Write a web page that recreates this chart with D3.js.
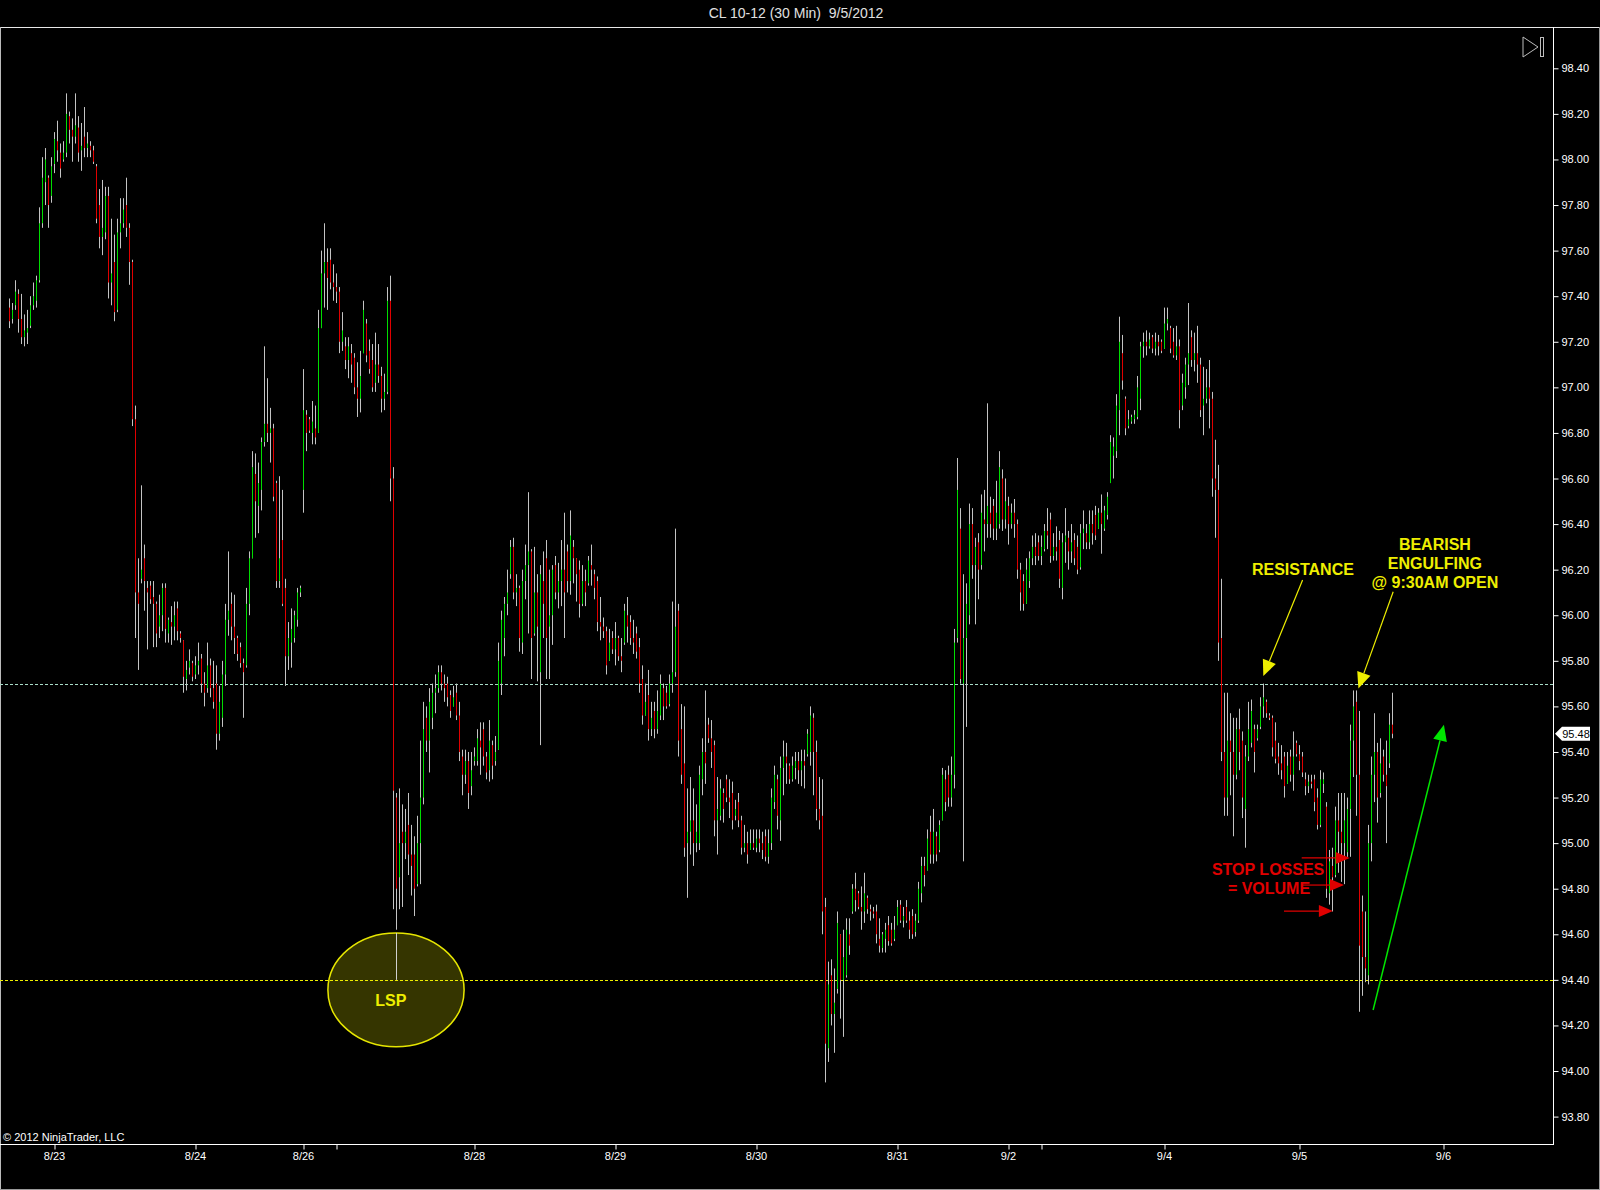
<!DOCTYPE html>
<html>
<head>
<meta charset="utf-8">
<script src="https://cdn.jsdelivr.net/npm/d3@7"></script>
<style>
html, body { margin: 0; padding: 0; background: #000; }
svg { display: block; font-family: "Liberation Sans", Arial, sans-serif; }
</style>
</head>
<body>
<div id="chart"></div>
<script>
// ---- data: 30 min bars [open, high, low, close] ----
const title = "CL 10-12 (30 Min)  9/5/2012";

const barsAug22_27 = [
  [97.35,97.39,97.26,97.29],[97.30,97.37,97.28,97.34],[97.36,97.47,97.34,97.42],[97.41,97.43,97.24,97.30],[97.30,97.41,97.19,97.22],
  [97.22,97.32,97.18,97.25],[97.24,97.34,97.19,97.26],[97.27,97.40,97.26,97.36],[97.36,97.46,97.34,97.40],[97.38,97.49,97.35,97.47],
  [97.47,97.79,97.46,97.72],[97.72,98.01,97.70,97.92],[97.90,98.05,97.80,98.00],[97.92,97.93,97.70,97.80],[97.84,98.01,97.81,97.97],
  [97.98,98.12,97.94,98.09],[98.08,98.17,97.99,98.04],[98.03,98.07,97.92,97.96],[98.00,98.08,97.99,98.03],[98.03,98.29,98.01,98.20],
  [98.19,98.21,98.07,98.13],[98.13,98.18,97.99,98.10],[98.10,98.29,98.07,98.15],[98.14,98.19,97.99,98.03],[98.04,98.16,97.95,98.06],
  [98.10,98.23,98.01,98.05],[98.05,98.12,98.01,98.07],[98.06,98.08,98.01,98.04],[98.04,98.06,97.98,97.99],[97.97,97.98,97.72,97.74],
  [97.80,97.87,97.61,97.66],[97.66,97.91,97.58,97.70],[97.68,97.88,97.65,97.84],[97.84,97.88,97.39,97.46],[97.46,97.74,97.36,97.50],
  [97.55,97.67,97.29,97.33],[97.34,97.74,97.33,97.68],[97.68,97.83,97.61,97.72],[97.72,97.83,97.70,97.78],[97.80,97.92,97.66,97.70],
  [97.70,97.72,97.45,97.55],[97.55,97.56,96.83,96.86],[96.86,96.92,95.90,96.10],[96.10,96.25,95.76,96.05],[96.16,96.57,96.14,96.20],
  [96.25,96.31,96.02,96.15],[96.12,96.15,95.85,96.10],[96.13,96.15,96.05,96.07],[96.08,96.15,95.86,96.05],[96.05,96.06,95.86,95.92],
  [95.95,96.09,95.90,96.00],[96.00,96.14,95.93,96.12],[96.12,96.14,95.88,95.94],[95.92,95.99,95.88,95.98],[95.97,96.04,95.87,95.95],
  [95.95,96.06,95.89,96.00],[96.03,96.06,95.89,95.93],[95.92,95.93,95.88,95.90],[95.89,95.89,95.66,95.73],[95.72,95.80,95.67,95.76],
  [95.77,95.85,95.74,95.80],[95.79,95.80,95.71,95.73],[95.74,95.82,95.72,95.78],[95.78,95.88,95.74,95.80],[95.81,95.83,95.66,95.70],
  [95.70,95.75,95.60,95.66],[95.68,95.88,95.66,95.78],[95.78,95.81,95.64,95.68],[95.68,95.80,95.59,95.62],[95.70,95.78,95.41,95.48],
  [95.48,95.69,95.45,95.62],[95.55,95.80,95.51,95.74],[95.74,96.05,95.69,95.98],[95.98,96.28,95.91,96.02],[96.05,96.10,95.89,95.95],
  [95.95,96.09,95.83,95.90],[95.90,95.91,95.80,95.83],[95.86,95.88,95.77,95.79],[95.79,95.81,95.55,95.75],[95.78,96.12,95.77,96.05],
  [96.05,96.28,96.00,96.25],[96.25,96.72,96.25,96.65],[96.62,96.71,96.34,96.50],[96.48,96.67,96.36,96.58],[96.55,96.78,96.46,96.76],
  [96.76,97.18,96.74,96.84],[96.84,97.04,96.76,96.80],[96.80,96.91,96.67,96.82],[96.82,96.84,96.50,96.52],[96.58,96.59,96.12,96.15],
  [96.15,96.61,96.12,96.25],[96.33,96.55,96.04,96.05],[96.12,96.16,95.69,95.82],[95.82,95.97,95.76,95.90],[95.88,96.03,95.77,95.94],
  [95.90,96.02,95.88,96.00],[95.98,96.12,95.95,96.10],[96.10,96.13,96.08,96.12],[96.55,97.08,96.45,96.90],[96.88,96.90,96.72,96.80],
  [96.86,96.87,96.80,96.81],[96.80,96.94,96.75,96.85],[96.82,96.92,96.75,96.78],[96.80,97.34,96.80,97.26],[97.26,97.60,97.26,97.50],
  [97.50,97.72,97.35,97.55],[97.55,97.61,97.34,97.48],[97.56,97.61,97.43,97.46],[97.46,97.54,97.38,97.44],[97.44,97.50,97.37,97.42],
  [97.42,97.44,97.15,97.20],[97.20,97.33,97.16,97.25],[97.18,97.22,97.08,97.12],[97.12,97.22,97.04,97.18],[97.15,97.19,97.02,97.10],
  [97.13,97.15,96.97,97.00],[97.00,97.11,96.87,96.95],[96.95,97.16,96.89,97.05],[97.15,97.38,97.15,97.34],[97.28,97.30,97.11,97.14],
  [97.16,97.21,97.06,97.08],[97.12,97.19,96.98,97.00],[97.02,97.24,96.98,97.10],[97.10,97.19,97.02,97.05],[97.05,97.09,96.89,96.95],
  [96.95,97.06,96.90,96.98],[96.98,97.44,96.97,97.38],[97.38,97.49,96.50,96.60],[96.60,96.65,94.71,95.23]
];

const barsAug27_31 = [
  [95.20,95.22,94.62,94.80],[94.85,95.24,94.71,95.00],[95.05,95.17,94.72,95.00],[95.00,95.15,94.93,95.05],[95.08,95.22,94.86,94.95],
  [94.95,95.08,94.77,94.90],[94.95,95.03,94.68,94.80],[94.82,95.12,94.81,95.00],[95.00,95.45,94.82,95.20],[95.20,95.62,95.17,95.50],
  [95.55,95.60,95.40,95.45],[95.45,95.68,95.31,95.62],[95.55,95.70,95.50,95.66],[95.66,95.74,95.57,95.68],[95.68,95.78,95.66,95.75],
  [95.75,95.78,95.67,95.70],[95.70,95.74,95.62,95.68],[95.70,95.73,95.60,95.64],[95.65,95.67,95.55,95.58],[95.60,95.69,95.60,95.64],
  [95.66,95.70,95.54,95.56],[95.56,95.62,95.36,95.40],[95.38,95.41,95.21,95.30],[95.30,95.41,95.26,95.36],[95.36,95.40,95.15,95.22],
  [95.25,95.40,95.21,95.32],[95.36,95.42,95.34,95.38],[95.36,95.50,95.34,95.46],[95.45,95.53,95.30,95.42],[95.50,95.53,95.34,95.38],
  [95.38,95.40,95.28,95.31],[95.32,95.54,95.27,95.45],[95.43,95.45,95.28,95.34],[95.36,95.47,95.34,95.40],[95.41,95.88,95.41,95.80],
  [95.70,96.02,95.65,95.98],[95.90,96.08,95.82,96.05],[96.05,96.20,96.00,96.10],[96.18,96.33,96.16,96.30],[96.30,96.34,96.07,96.10],
  [96.10,96.18,96.04,96.12],[96.12,96.13,95.84,95.90],[95.88,96.20,95.83,96.15],[96.15,96.31,96.07,96.22],[96.22,96.54,95.92,96.28],
  [96.28,96.29,95.72,95.90],[95.92,96.30,95.91,96.10],[96.10,96.18,95.71,95.95],[95.75,96.22,95.43,96.18],[96.15,96.28,95.90,96.05],
  [96.25,96.33,95.72,95.90],[95.95,96.20,95.72,96.00],[96.00,96.22,95.87,96.20],[96.22,96.26,96.07,96.10],[96.10,96.23,96.03,96.15],
  [96.15,96.33,96.04,96.20],[96.20,96.45,95.90,96.10],[96.28,96.31,96.10,96.15],[96.15,96.46,96.09,96.35],[96.30,96.33,96.14,96.25],
  [96.25,96.25,96.06,96.18],[96.20,96.24,95.99,96.05],[96.05,96.22,96.04,96.15],[96.15,96.20,96.04,96.10],[96.14,96.26,96.13,96.24],
  [96.22,96.31,96.13,96.20],[96.18,96.20,96.07,96.12],[96.15,96.17,95.93,95.97],[95.97,96.08,95.89,95.95],[95.95,95.99,95.90,95.93],
  [95.93,95.95,95.74,95.78],[95.80,95.94,95.80,95.88],[95.90,95.93,95.83,95.85],[95.85,95.97,95.78,95.90],[95.90,95.91,95.80,95.82],
  [95.82,95.90,95.75,95.80],[95.88,96.05,95.87,96.02],[96.00,96.08,95.88,95.95],[95.97,96.00,95.87,95.90],[95.90,95.98,95.83,95.88],
  [95.92,95.95,95.81,95.84],[95.86,95.90,95.66,95.70],[95.72,95.78,95.52,95.56],[95.56,95.70,95.56,95.62],[95.65,95.76,95.45,95.50],
  [95.50,95.62,95.47,95.55],[95.58,95.62,95.46,95.50],[95.50,95.67,95.48,95.58],[95.56,95.74,95.54,95.70],[95.68,95.70,95.54,95.60],
  [95.66,95.69,95.59,95.60],[95.61,95.74,95.60,95.70],[95.70,96.06,95.66,95.75],[95.75,96.38,95.73,95.95],[96.02,96.05,95.38,95.45],
  [95.50,95.61,95.26,95.30],[95.35,95.60,94.94,94.98],[95.00,95.24,94.76,95.05],[95.05,95.29,94.95,95.10],[95.10,95.24,94.90,95.00],
  [95.00,95.17,94.96,95.05],[95.00,95.34,94.97,95.30],[95.28,95.46,95.21,95.40],[95.40,95.67,95.26,95.35],[95.52,95.55,95.44,95.46],
  [95.46,95.54,95.33,95.40],[95.43,95.45,95.03,95.10],[95.10,95.29,94.95,95.15],[95.12,95.28,95.10,95.24],[95.22,95.24,95.09,95.15],
  [95.28,95.30,95.18,95.20],[95.20,95.28,95.11,95.18],[95.22,95.27,95.06,95.10],[95.12,95.19,95.10,95.15],[95.18,95.22,95.07,95.10],
  [95.10,95.12,94.95,94.98],[94.98,95.08,94.96,95.00],[95.00,95.05,94.91,94.95],[94.97,95.06,94.97,95.00],[95.00,95.06,94.97,94.98],
  [94.98,95.06,94.96,95.02],[95.02,95.06,94.96,95.00],[95.00,95.05,94.93,94.97],[95.03,95.06,94.92,94.94],[94.94,95.06,94.91,95.00],
  [95.00,95.24,94.97,95.20],[95.18,95.34,95.15,95.30],[95.28,95.30,95.06,95.12],[95.10,95.38,95.01,95.33],[95.33,95.45,95.21,95.38],
  [95.38,95.44,95.26,95.35],[95.34,95.35,95.26,95.28],[95.28,95.38,95.27,95.34],[95.33,95.40,95.28,95.36],[95.36,95.40,95.26,95.32],
  [95.32,95.41,95.25,95.36],[95.36,95.41,95.24,95.34],[95.39,95.50,95.38,95.48],[95.40,95.60,95.34,95.56],[95.55,95.57,95.21,95.40],
  [95.40,95.45,95.10,95.15],[95.15,95.29,95.06,95.10],[95.12,95.28,94.60,94.70],[94.72,94.76,93.95,94.12],[94.10,94.48,94.04,94.38],
  [94.42,94.49,94.20,94.25],[94.25,94.45,94.08,94.30],[94.36,94.70,94.34,94.65],[94.60,94.60,94.23,94.40],[94.40,94.62,94.15,94.50],
  [94.42,94.67,94.41,94.62],[94.60,94.67,94.51,94.55],[94.70,94.82,94.69,94.80],[94.80,94.87,94.70,94.75],[94.78,94.79,94.71,94.72],
  [94.72,94.81,94.62,94.70],[94.70,94.87,94.65,94.78],[94.76,94.77,94.69,94.71],[94.71,94.73,94.66,94.70],[94.70,94.72,94.67,94.69],
  [94.70,94.73,94.56,94.60],[94.58,94.67,94.52,94.55]
];

const barsAug31_Sep5 = [
  [94.54,94.61,94.52,94.60],[94.58,94.65,94.52,94.62],[94.64,94.68,94.55,94.57],[94.62,94.65,94.55,94.56],[94.58,94.68,94.57,94.62],
  [94.64,94.75,94.64,94.72],[94.73,94.75,94.65,94.66],[94.66,94.72,94.63,94.68],[94.72,94.75,94.65,94.66],[94.66,94.70,94.58,94.62],
  [94.68,94.71,94.58,94.60],[94.61,94.69,94.59,94.66],[94.66,94.83,94.65,94.80],[94.78,94.94,94.74,94.90],[94.90,94.94,94.81,94.86],
  [94.88,95.06,94.88,95.02],[95.05,95.12,94.91,94.95],[94.95,95.15,94.91,95.05],[95.03,95.05,94.92,94.95],[94.97,95.10,94.96,95.08],
  [95.10,95.33,95.10,95.30],[95.28,95.32,95.14,95.18],[95.30,95.34,95.16,95.20],[95.20,95.38,95.16,95.30],[95.30,95.94,95.24,95.88],
  [95.90,96.69,95.88,96.55],[96.38,96.47,95.70,95.72],[95.70,96.18,94.92,95.90],[95.90,96.14,95.51,96.05],[96.00,96.49,95.96,96.40],
  [96.40,96.47,96.16,96.22],[96.22,96.34,95.96,96.30],[96.32,96.36,96.07,96.20],[96.22,96.53,96.20,96.45],[96.42,96.55,96.28,96.40],
  [96.40,96.93,96.34,96.48],[96.45,96.52,96.34,96.40],[96.48,96.51,96.33,96.38],[96.38,96.59,96.33,96.45],[96.40,96.72,96.38,96.65],
  [96.60,96.64,96.37,96.42],[96.42,96.60,96.38,96.50],[96.48,96.52,96.31,96.40],[96.40,96.49,96.38,96.45],[96.45,96.51,96.34,96.40],
  [96.40,96.42,96.16,96.20],[96.20,96.23,96.02,96.10],[96.15,96.18,96.02,96.05],[96.05,96.25,96.05,96.20],[96.15,96.28,96.12,96.25],
  [96.25,96.35,96.22,96.30],[96.30,96.36,96.22,96.26],[96.32,96.35,96.24,96.26],[96.26,96.35,96.22,96.30],[96.29,96.40,96.28,96.37],
  [96.37,96.47,96.29,96.35],[96.42,96.45,96.23,96.26],[96.26,96.36,96.24,96.30],[96.30,96.39,96.24,96.28],[96.33,96.37,96.12,96.16],
  [96.12,96.36,96.07,96.32],[96.32,96.47,96.23,96.35],[96.34,96.37,96.20,96.28],[96.28,96.40,96.23,96.32],[96.33,96.36,96.22,96.25],
  [96.30,96.35,96.18,96.20],[96.21,96.40,96.20,96.36],[96.36,96.46,96.29,96.38],[96.36,96.40,96.29,96.32],[96.32,96.46,96.29,96.40],
  [96.40,96.46,96.31,96.36],[96.44,96.48,96.33,96.35],[96.38,96.47,96.38,96.45],[96.45,96.53,96.27,96.40],[96.38,96.48,96.37,96.46],
  [96.44,96.54,96.42,96.52],[96.58,96.79,96.58,96.76],[96.70,96.78,96.60,96.74],[96.72,96.97,96.69,96.92],[96.90,97.31,96.79,97.20],
  [97.15,97.23,96.99,97.03],[96.95,96.96,96.79,96.82],[96.83,96.90,96.82,96.86],[96.85,96.88,96.84,96.87],[96.86,96.90,96.84,96.88],
  [96.87,97.05,96.86,97.00],[96.95,97.20,96.90,97.18],[97.18,97.24,97.13,97.20],[97.20,97.25,97.14,97.18],[97.18,97.24,97.17,97.21],
  [97.22,97.23,97.15,97.17],[97.17,97.24,97.14,97.20],[97.20,97.23,97.14,97.18],[97.20,97.21,97.15,97.16],[97.17,97.35,97.17,97.28],
  [97.28,97.35,97.25,97.30],[97.26,97.27,97.15,97.17],[97.20,97.26,97.13,97.14],[97.14,97.27,97.12,97.18],[97.18,97.21,96.82,96.90],
  [96.92,97.06,96.90,97.02],[97.00,97.13,96.95,97.10],[97.10,97.37,97.01,97.15],[97.22,97.25,97.09,97.12],[97.12,97.24,97.07,97.15],
  [97.15,97.27,97.02,97.10],[97.10,97.13,96.87,96.90],[96.92,97.09,96.79,96.95],[96.95,97.08,96.93,97.00],[97.00,97.12,96.82,96.95],
  [96.95,96.98,96.52,96.60],[96.60,96.77,96.34,96.55],[96.55,96.66,95.80,95.88],[95.90,96.16,95.36,95.40],[95.40,95.66,95.12,95.20],
  [95.20,95.66,95.12,95.45],[95.45,95.57,95.21,95.40],[95.40,95.55,95.03,95.30],[95.30,95.55,95.28,95.50],[95.50,95.59,95.32,95.40],
  [95.45,95.49,95.11,95.20],[95.15,95.43,94.98,95.38],[95.38,95.62,95.36,95.50],[95.44,95.63,95.42,95.58],[95.50,95.52,95.31,95.40],
  [95.46,95.52,95.45,95.50],[95.51,95.64,95.50,95.60],[95.60,95.70,95.55,95.64],[95.62,95.63,95.55,95.57],[95.56,95.57,95.54,95.55],
  [95.55,95.56,95.38,95.42],[95.45,95.53,95.35,95.37],[95.38,95.44,95.30,95.35],[95.35,95.43,95.28,95.32],[95.38,95.40,95.20,95.25],
  [95.26,95.40,95.26,95.34],[95.38,95.41,95.27,95.30],[95.30,95.49,95.23,95.38],[95.44,95.45,95.38,95.39],[95.39,95.43,95.32,95.36],
  [95.38,95.40,95.29,95.31],[95.28,95.31,95.21,95.25],[95.25,95.30,95.22,95.27],[95.27,95.30,95.24,95.26],[95.28,95.30,95.14,95.18],
  [95.20,95.24,95.06,95.08],[95.08,95.32,95.07,95.28],[95.26,95.31,95.22,95.28],[95.16,95.18,94.76,94.80],[94.78,94.97,94.73,94.92],
  [94.90,94.98,94.70,94.85],[94.86,95.16,94.85,95.10],[95.10,95.22,94.87,95.05],[95.05,95.22,94.83,95.00],[95.00,95.22,94.82,95.10],
  [94.96,95.20,94.94,95.15],[95.15,95.52,94.94,95.45],[95.45,95.67,95.29,95.60],[95.62,95.67,95.12,95.30],[95.30,95.58,94.26,94.55],
  [94.70,94.77,94.33,94.50],[94.50,94.70,94.39,94.45],[94.42,95.08,94.38,95.00],[95.00,95.38,94.92,95.30],[95.30,95.57,95.18,95.40],
  [95.40,95.44,95.09,95.20],[95.22,95.46,95.20,95.35],[95.38,95.41,95.27,95.30],[95.30,95.45,95.00,95.25],[95.35,95.57,95.33,95.52],
  [95.52,95.66,95.46,95.48]
];

// x axis: bar index of each date tick and its label ("" = unlabeled tick)
const dateTickIdx = [15, 62, 98, 109, 155, 202, 249, 296, 333, 344, 385, 430, 478];
const dateTickLbl = ["8/23", "8/24", "8/26", "", "8/28", "8/29", "8/30", "8/31", "9/2", "", "9/4", "9/5", "9/6"];
const priceTicks = [93.8, 94.0, 94.2, 94.4, 94.6, 94.8, 95.0, 95.2, 95.4, 95.6, 95.8, 96.0,
                    96.2, 96.4, 96.6, 96.8, 97.0, 97.2, 97.4, 97.6, 97.8, 98.0, 98.2, 98.4];

// horizontal levels and last price
const resistanceLevel = 95.70;
const supportLevel = 94.40;
const lastPrice = 95.48;

// drawn annotations, in [bar index, price]
const lsp = {center: [129, 94.356], rIdx: 22.7, rPrice: 0.25, label: "LSP", labelAt: [127.3, 94.31]};
const yellowArrows = [
  {from: [431.2, 96.155], to: [418.1, 95.733]},
  {from: [461.4, 96.103], to: [449.8, 95.679]}
];
const redArrows = [
  {from: [430.9, 94.935], to: [446.9, 94.935]},
  {from: [431.3, 94.816], to: [445.0, 94.816]},
  {from: [425.0, 94.702], to: [441.3, 94.702]}
];
const greenArrow = {from: [454.7, 94.268], to: [478.3, 95.519]};
const notes = [
  {text: "RESISTANCE", at: [431.3, 96.203], color: "#eeee00"},
  {text: "BEARISH", at: [475.3, 96.313], color: "#eeee00"},
  {text: "ENGULFING", at: [475.3, 96.230], color: "#eeee00"},
  {text: "@ 9:30AM OPEN", at: [475.3, 96.146], color: "#eeee00"},
  {text: "STOP LOSSES", at: [419.7, 94.887], color: "#e00000"},
  {text: "= VOLUME", at: [420.0, 94.804], color: "#e00000"}
];

const bars = [...barsAug22_27, ...barsAug27_31, ...barsAug31_Sep5];

// ---- layout ----
const W = 1600, H = 1190;
const plotTop = 27, plotBottom = 1144, axisX = 1553;

const svg = d3.select("#chart").append("svg")
  .attr("width", W).attr("height", H)
  .style("background", "#000");

const x = d3.scaleLinear().domain([0, 478]).range([9, 1443]);
const y = d3.scaleLinear().domain([93.8, 98.4]).range([1116.6, 68.3]);
const px = v => Math.round(x(v)) + 0.5;

// title (keep the double space)
svg.append("text")
  .attr("x", 796).attr("y", 18)
  .attr("text-anchor", "middle")
  .attr("fill", "#e0e0e0")
  .style("font-size", "14px")
  .style("white-space", "pre")
  .text(title);

// frame
svg.append("line").attr("x1", 0).attr("x2", W).attr("y1", plotTop + 0.5).attr("y2", plotTop + 0.5)
  .attr("stroke", "#e8e8e8");
svg.append("line").attr("x1", 0.5).attr("x2", 0.5).attr("y1", plotTop).attr("y2", H)
  .attr("stroke", "#bbb");
svg.append("line").attr("x1", 0).attr("x2", W).attr("y1", H - 0.5).attr("y2", H - 0.5)
  .attr("stroke", "#999");
svg.append("line").attr("x1", W - 0.5).attr("x2", W - 0.5).attr("y1", plotTop).attr("y2", H)
  .attr("stroke", "#999");

// LSP ellipse under everything else
svg.append("ellipse")
  .attr("cx", x(lsp.center[0])).attr("cy", y(lsp.center[1]))
  .attr("rx", x(lsp.rIdx) - x(0)).attr("ry", y(lsp.center[1] - lsp.rPrice) - y(lsp.center[1]))
  .attr("fill", "rgba(240,240,0,0.22)")
  .attr("stroke", "#e6e600").attr("stroke-width", 1.5);

// horizontal levels
svg.append("line")
  .attr("x1", 0).attr("x2", axisX)
  .attr("y1", Math.round(y(resistanceLevel)) + 0.5).attr("y2", Math.round(y(resistanceLevel)) + 0.5)
  .attr("stroke", "#a8dcc8").attr("stroke-dasharray", "3,2");
svg.append("line")
  .attr("x1", 0).attr("x2", axisX)
  .attr("y1", Math.round(y(supportLevel)) + 0.5).attr("y2", Math.round(y(supportLevel)) + 0.5)
  .attr("stroke", "#f0f000").attr("stroke-dasharray", "3,2");

// line from the LSP bar down to the support level
svg.append("line")
  .attr("x1", px(lsp.center[0])).attr("x2", px(lsp.center[0]))
  .attr("y1", y(lsp.center[1] + lsp.rPrice)).attr("y2", y(supportLevel))
  .attr("stroke", "#d0d0d0");

// bars: grey wick, coloured body
const barG = svg.append("g");
const bar = barG.selectAll("g").data(bars).join("g");
bar.append("line")
  .attr("x1", (d, i) => px(i)).attr("x2", (d, i) => px(i))
  .attr("y1", d => y(d[1])).attr("y2", d => y(d[2]))
  .attr("stroke", "#c4c4c4").attr("stroke-width", 1);
bar.append("line")
  .attr("x1", (d, i) => px(i)).attr("x2", (d, i) => px(i))
  .attr("y1", d => y(Math.max(d[0], d[3])))
  .attr("y2", d => Math.max(y(Math.min(d[0], d[3])), y(Math.max(d[0], d[3])) + 1))
  .attr("stroke", d => d[3] >= d[0] ? "#00dd00" : "#e00000").attr("stroke-width", 1);

// axes
const yAxis = d3.axisRight(y).tickValues(priceTicks).tickFormat(d3.format(".2f"))
  .tickSize(5).tickPadding(3);
svg.append("g").attr("transform", `translate(${axisX + 0.5},0)`).call(yAxis)
  .call(g => g.select(".domain").remove())
  .call(g => g.selectAll("line").attr("stroke", "#fff"))
  .call(g => g.selectAll("text").attr("fill", "#fff")
    .style("font-size", "11px").style("font-family", "Liberation Sans, Arial, sans-serif"));

const xAxis = d3.axisBottom(x).tickValues(dateTickIdx)
  .tickFormat((d, i) => dateTickLbl[i]).tickSize(5).tickPadding(3);
svg.append("g").attr("transform", `translate(0,${plotBottom + 0.5})`).call(xAxis)
  .call(g => g.select(".domain").remove())
  .call(g => g.selectAll("line").attr("stroke", "#fff").attr("transform", "translate(0.5,0)"))
  .call(g => g.selectAll("text").attr("fill", "#fff")
    .style("font-size", "11px").style("font-family", "Liberation Sans, Arial, sans-serif"));

svg.append("line").attr("x1", axisX + 0.5).attr("x2", axisX + 0.5)
  .attr("y1", plotTop).attr("y2", plotBottom + 1).attr("stroke", "#fff");
svg.append("line").attr("x1", 0).attr("x2", axisX + 1)
  .attr("y1", plotBottom + 0.5).attr("y2", plotBottom + 0.5).attr("stroke", "#fff");

// copyright
svg.append("text").attr("x", 3).attr("y", 1141)
  .attr("fill", "#fff").style("font-size", "11px")
  .text("\u00a9 2012 NinjaTrader, LLC");

// "go to end" button
svg.append("path").attr("d", "M1523,37 L1538,47 L1523,57 Z")
  .attr("fill", "none").attr("stroke", "#bdbdbd").attr("stroke-width", 1);
svg.append("rect").attr("x", 1540.5).attr("y", 37.5).attr("width", 3).attr("height", 19)
  .attr("fill", "none").attr("stroke", "#bdbdbd");

// last price marker
const ly = y(lastPrice);
svg.append("path")
  .attr("d", `M${axisX + 2},${ly} L${axisX + 9},${ly - 7} L${axisX + 37},${ly - 7} L${axisX + 37},${ly + 7} L${axisX + 9},${ly + 7} Z`)
  .attr("fill", "#fff");
svg.append("text").attr("x", axisX + 23).attr("y", ly + 4)
  .attr("text-anchor", "middle").attr("fill", "#000").style("font-size", "11px")
  .text(lastPrice.toFixed(2));

// arrows
function arrow(a, color, width, headLen, headHalf) {
  const x1 = x(a.from[0]), y1 = y(a.from[1]);
  const x2 = x(a.to[0]), y2 = y(a.to[1]);
  const ang = Math.atan2(y2 - y1, x2 - x1);
  const bx = x2 - headLen * Math.cos(ang), by = y2 - headLen * Math.sin(ang);
  svg.append("line").attr("x1", x1).attr("y1", y1).attr("x2", bx).attr("y2", by)
    .attr("stroke", color).attr("stroke-width", width);
  const nx = -Math.sin(ang) * headHalf, ny = Math.cos(ang) * headHalf;
  svg.append("path")
    .attr("d", `M${x2},${y2} L${bx + nx},${by + ny} L${bx - nx},${by - ny} Z`)
    .attr("fill", color);
}
yellowArrows.forEach(a => arrow(a, "#eeee00", 1.2, 16, 7));
redArrows.forEach(a => arrow(a, "#e00000", 1.2, 14, 6));
arrow(greenArrow, "#00e600", 1.5, 16, 7);

// annotation text
svg.selectAll("text.note").data(notes).join("text")
  .attr("class", "note")
  .attr("x", d => x(d.at[0])).attr("y", d => y(d.at[1]))
  .attr("dy", "0.36em")
  .attr("text-anchor", "middle")
  .attr("fill", d => d.color)
  .style("font-size", "16px").style("font-weight", "bold")
  .text(d => d.text);

svg.append("text")
  .attr("x", x(lsp.labelAt[0])).attr("y", y(lsp.labelAt[1]))
  .attr("dy", "0.36em").attr("text-anchor", "middle")
  .attr("fill", "#eeee00").style("font-size", "16px").style("font-weight", "bold")
  .text(lsp.label);
</script>
</body>
</html>
